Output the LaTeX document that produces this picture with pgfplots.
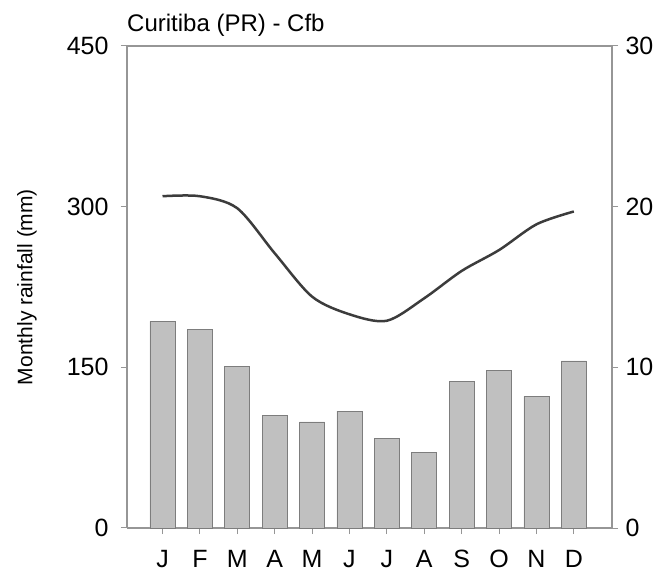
\documentclass[border=0pt]{standalone}
\usepackage{pgfplots}
\pgfplotsset{compat=1.18}
\usepackage{fontspec}
\setmainfont{Liberation Sans}
\definecolor{axgray}{RGB}{150,150,150}
\definecolor{barfill}{RGB}{192,192,192}
\definecolor{bardraw}{RGB}{125,125,125}
\definecolor{linecol}{RGB}{60,60,60}
\begin{document}
\begin{tikzpicture}
\pgfplotsset{
  common/.style={
    scale only axis, width=485pt, height=482pt,
    xmin=0.05, xmax=13.02,
    /pgf/number format/assume math mode=true,
    tick style={axgray, line width=1pt},
    major tick length=6pt,
    tick align=outside,
    axis line style={axgray, line width=1.2pt},
    ticklabel style={font=\fontsize{25}{28}\selectfont},
  }
}
\begin{axis}[common,
  ymin=0, ymax=450,
  ytick={0,150,300,450},
  axis y line*=left,
  axis x line*=bottom,
  xtick={1,...,12},
  xticklabels={J,F,M,A,M,J,J,A,S,O,N,D},
  xticklabel style={yshift=-13pt},
  yticklabel style={xshift=-9pt},
  clip=false,
]
\addplot[ybar, bar width=0.67, fill=barfill, draw=bardraw, line width=0.8pt] coordinates {
  (1,193) (2,185) (3,151) (4,105) (5,99) (6,109)
  (7,83.5) (8,70.5) (9,136.5) (10,147) (11,123) (12,156)
};
\draw[axgray, line width=1.2pt] (rel axis cs:0,1) -- (rel axis cs:1,1);
\node[anchor=south west, inner sep=0pt, font=\fontsize{24}{26}\selectfont] at ([yshift=9pt]rel axis cs:0,1) {Curitiba (PR) - Cfb};
\node[rotate=90, inner sep=0pt, font=\fontsize{21}{24}\selectfont] at ([xshift=-100pt]rel axis cs:0,0.5) {Monthly rainfall (mm)};
\path ([shift={(-127pt,-48pt)}]rel axis cs:0,0) rectangle ([shift={(47pt,46pt)}]rel axis cs:1,1);
\end{axis}
\begin{axis}[common,
  ymin=0, ymax=30,
  ytick={0,10,20,30},
  axis y line*=right,
  axis x line=none,
  yticklabel style={xshift=4pt},
]
\addplot[linecol, line width=2.5pt, smooth, tension=0.5] coordinates {
  (1,20.65) (2,20.65) (3,19.9) (4,17.1) (5,14.4) (6,13.3)
  (7,12.9) (8,14.3) (9,16.0) (10,17.3) (11,18.9) (12,19.7)
};
\end{axis}
\end{tikzpicture}
\end{document}
